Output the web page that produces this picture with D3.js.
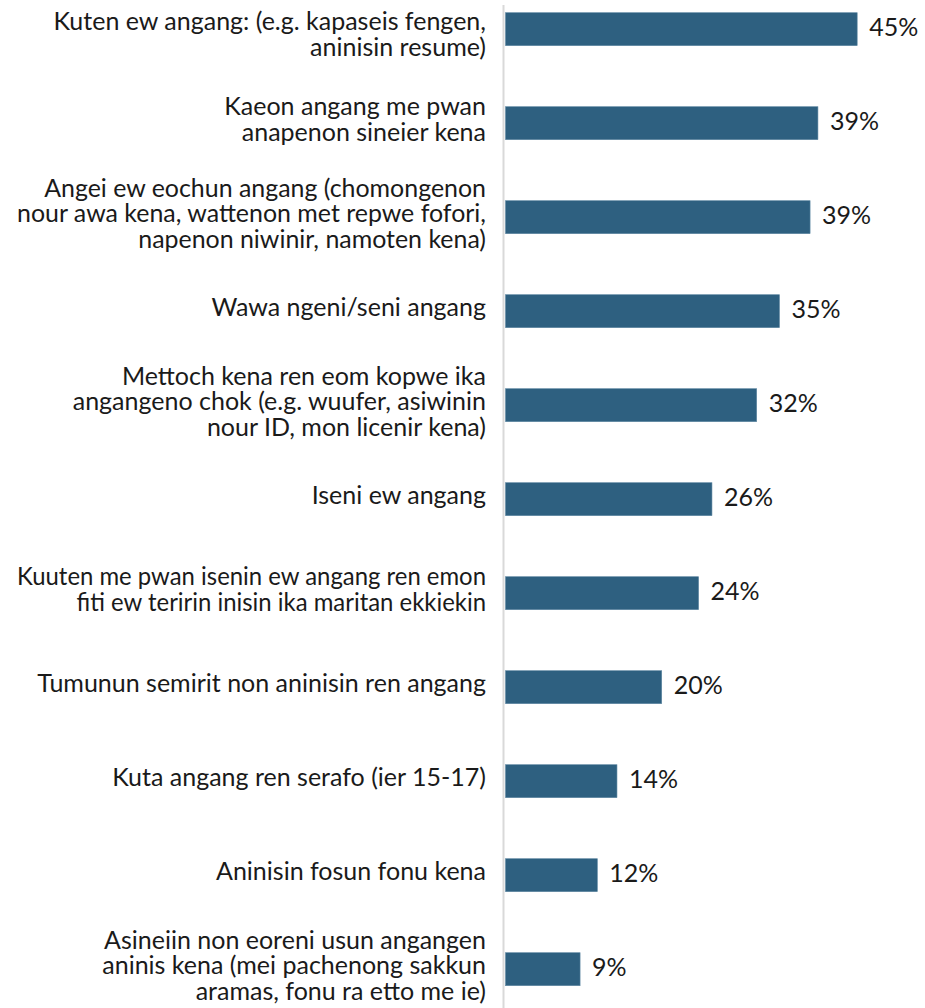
<!DOCTYPE html>
<html>
<head>
<meta charset="utf-8">
<script src="https://cdn.jsdelivr.net/npm/d3@7"></script>
<style>
  html, body { margin: 0; padding: 0; background: #ffffff; }
  svg { display: block; }
  text { font-family: Lato, "Noto Sans", sans-serif; }
</style>
</head>
<body>
<svg id="chart" width="925" height="1008"></svg>
<script>
// ---- data ----
const categories = [
  ["Kuten ew angang: (e.g. kapaseis fengen,", "aninisin resume)"],
  ["Kaeon angang me pwan", "anapenon sineier kena"],
  ["Angei ew eochun angang (chomongenon", "nour awa kena, wattenon met repwe fofori,", "napenon niwinir, namoten kena)"],
  ["Wawa ngeni/seni angang"],
  ["Mettoch kena ren eom kopwe ika", "angangeno chok (e.g. wuufer, asiwinin", "nour ID, mon licenir kena)"],
  ["Iseni ew angang"],
  ["Kuuten me pwan isenin ew angang ren emon", "fiti ew teririn inisin ika maritan ekkiekin"],
  ["Tumunun semirit non aninisin ren angang"],
  ["Kuta angang ren serafo (ier 15-17)"],
  ["Aninisin fosun fonu kena"],
  ["Asineiin non eoreni usun angangen", "aninis kena (mei pachenong sakkun", "aramas, fonu ra etto me ie)"]
];
const values = [44.8, 39.8, 38.8, 34.9, 32.0, 26.3, 24.6, 19.9, 14.2, 11.7, 9.5];
const valueLabels = ["45%", "39%", "39%", "35%", "32%", "26%", "24%", "20%", "14%", "12%", "9%"];

// ---- layout ----
const svg = d3.select("#chart");
const x0 = 505.5;
const x = d3.scaleLinear().domain([0, 50]).range([x0, x0 + 50 * 7.85]);
const y = d3.scaleBand()
  .domain(d3.range(categories.length))
  .range([12.7, 985.7])
  .paddingInner(0.649)
  .paddingOuter(0);

const barColor = "#2e6080";
const fontSize = 25;
const lineGap = 25.5;
const labelRight = 486;
const labelMaxWidth = 469;
const minFirstBaseline = 30;

// axis line
svg.append("line")
  .attr("x1", x0 - 2).attr("x2", x0 - 2)
  .attr("y1", 5).attr("y2", 1008)
  .attr("stroke", "#d9d9d9")
  .attr("stroke-width", 2);

// bars
svg.selectAll("rect.bar")
  .data(values)
  .join("rect")
  .attr("class", "bar")
  .attr("x", x(0))
  .attr("y", (d, i) => y(i))
  .attr("width", d => x(d) - x(0))
  .attr("height", y.bandwidth())
  .attr("fill", barColor)
  .attr("stroke", "#5f88a2")
  .attr("stroke-width", 0.6);

// value labels
svg.selectAll("text.val")
  .data(values)
  .join("text")
  .attr("class", "val")
  .attr("x", d => x(d) + 12)
  .attr("y", (d, i) => y(i) + y.bandwidth() / 2 + 6.5)
  .attr("font-size", fontSize)
  .attr("fill", "#1a1a1a")
  .text((d, i) => valueLabels[i]);

// category labels
const labelG = svg.selectAll("text.cat")
  .data(categories)
  .join("text")
  .attr("class", "cat")
  .attr("text-anchor", "end")
  .attr("font-size", fontSize)
  .attr("fill", "#1a1a1a");

labelG.each(function(lines, i) {
  const c = y(i) + y.bandwidth() / 2;
  // keep the block centred on its bar, but never let it run off the top edge
  const first = Math.max(minFirstBaseline, c - (lines.length - 1) * lineGap / 2 + 9 - 4);
  const spans = d3.select(this).selectAll("tspan")
    .data(lines)
    .join("tspan")
    .attr("x", labelRight)
    .attr("y", (d, j) => first + j * lineGap)
    .text(d => d);
  // condense a label block whose widest line would not fit the left margin
  const widths = spans.nodes().map(n => n.getComputedTextLength());
  const maxW = d3.max(widths);
  if (maxW > labelMaxWidth) {
    const k = labelMaxWidth / maxW;
    spans.attr("textLength", (d, j) => widths[j] * k)
         .attr("lengthAdjust", "spacingAndGlyphs");
  }
});
</script>
</body>
</html>
